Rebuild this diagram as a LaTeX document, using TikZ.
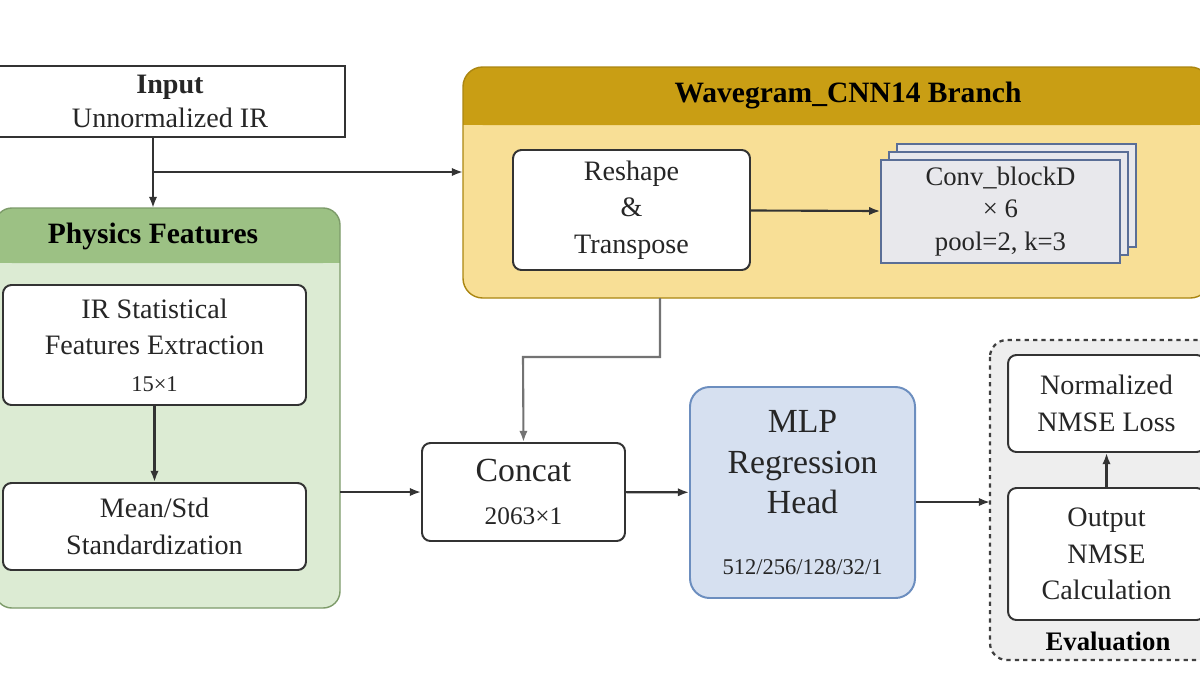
\documentclass[tikz,border=0pt]{standalone}
\usepackage{fontspec}
\setmainfont{Liberation Serif}
\usetikzlibrary{arrows.meta}
\definecolor{gdark}{HTML}{9CC184}
\definecolor{glight}{HTML}{DCEBD3}
\definecolor{ydark}{HTML}{C99E14}
\definecolor{ylight}{HTML}{F8DF96}
\definecolor{mlpfill}{HTML}{D6E0F0}
\definecolor{mlpdraw}{HTML}{6C8EBF}
\definecolor{convfill}{HTML}{E8E8EC}
\definecolor{convdraw}{HTML}{5A6E96}
\definecolor{evalfill}{HTML}{EEEEEE}
\begin{document}
\begin{tikzpicture}[x=0.025cm,y=-0.025cm,
  box/.style={draw=black!80,line width=1.4pt,fill=white,rounded corners=6pt,align=center,font=\fontsize{20}{26}\selectfont,text=black!85},
  arr/.style={-{Latex[length=8pt,width=6pt]},line width=1.5pt,black!80}]
\useasboundingbox (0,0) rectangle (1200,691);
% Input
\node[draw=black!80,line width=1.4pt,fill=white,minimum width=350*0.025cm,minimum height=71*0.025cm,align=center,font=\fontsize{20}{24}\selectfont,text=black!85] (in) at (170,101.5) {\textbf{Input}\\Unnormalized IR};
% Physics panel
\fill[glight,rounded corners=12pt] (-5,208) rectangle (340,608);
\fill[gdark,rounded corners=12pt] (-5,208) rectangle (340,263);
\fill[gdark] (-5,240) rectangle (340,263);
\draw[gdark!80!black,line width=1pt,rounded corners=12pt] (-5,208) rectangle (340,608);
\node[font=\fontsize{21}{24}\selectfont\bfseries] (pt) at (153,236) {Physics Features};
\coordinate (ptop) at (153,208);
\coordinate (pright) at (340,492);
\node[box,minimum width=303*0.025cm,minimum height=120*0.025cm] (ir) at (154.5,345) {IR Statistical\\Features Extraction\\\fontsize{16}{18}\selectfont 15×1};
\node[box,minimum width=303*0.025cm,minimum height=87*0.025cm] (ms) at (154.5,526.5) {Mean/Std\\Standardization};
% Wavegram panel
\fill[ylight,rounded corners=14pt] (463,67) rectangle (1210,298);
\fill[ydark,rounded corners=14pt] (463,67) rectangle (1210,125);
\fill[ydark] (463,100) rectangle (1210,125);
\draw[ydark!85!black,line width=1pt,rounded corners=14pt] (463,67) rectangle (1210,298);
\node[font=\fontsize{21}{24}\selectfont\bfseries] (wt) at (848,96) {Wavegram\_CNN14 Branch};
\coordinate (wleft) at (463,172);
\coordinate (wbot) at (660,298);
\node[box,minimum width=237*0.025cm,minimum height=120*0.025cm] (rs) at (631.5,210) {Reshape\\\&\\Transpose};
\foreach \d in {16,8}{
 \draw[convdraw,line width=1pt,fill=convfill] (881+\d,160-\d) rectangle (1120+\d,263-\d);}
\node[draw=convdraw,line width=1pt,fill=convfill,minimum width=239*0.025cm,minimum height=103*0.025cm,align=center,font=\fontsize{19}{23}\selectfont,text=black!85] (cv) at (1000.5,211.5) {Conv\_blockD\\× 6\\pool=2, k=3};
% Concat
\node[box,minimum width=203*0.025cm,minimum height=98*0.025cm,font=\fontsize{24}{28}\selectfont] (cc) at (523.5,492) {Concat\\[2pt]\fontsize{18}{20}\selectfont 2063×1};
% MLP
\node[draw=mlpdraw,line width=1.4pt,fill=mlpfill,rounded corners=14pt,minimum width=225*0.025cm,minimum height=211*0.025cm,align=center,font=\fontsize{24}{29}\selectfont,text=black!85] (mlp) at (802.5,492.5) {MLP\\Regression\\Head\\[14pt]\fontsize{16}{18}\selectfont 512/256/128/32/1};
% Evaluation
\draw[dashed,line width=1.6pt,black!75,fill=evalfill,rounded corners=12pt] (990,340) rectangle (1215,660);
\coordinate (eleft) at (990,502);
\node[font=\fontsize{19}{22}\selectfont\bfseries] (et) at (1108,641) {Evaluation};
\node[box,minimum width=197*0.025cm,minimum height=97*0.025cm] (nl) at (1106.5,403.5) {Normalized\\NMSE Loss};
\node[box,minimum width=197*0.025cm,minimum height=132*0.025cm] (op) at (1106.5,554) {Output\\NMSE\\Calculation};
% connectors
\draw[arr] (in.south -| ptop) -- (ptop);
\draw[arr] (153,172) -- (wleft);
\draw[arr] (ir) -- (ms);
\draw[arr] (pright) -- (cc.west);
\draw[arr,black!55] (wbot) -- (660,357) -- (523,357) -- (cc.north);
\draw[arr] (rs) -- (cv);
\draw[arr] (cc) -- (mlp);
\draw[arr] (mlp.east |- eleft) -- (eleft);
\draw[arr] (op) -- (nl);
\end{tikzpicture}
\end{document}
